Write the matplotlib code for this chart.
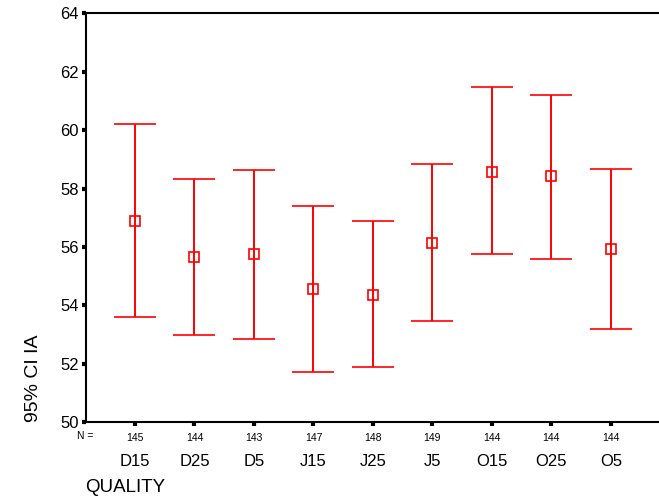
import matplotlib.pyplot as plt
import numpy as np
from matplotlib import transforms

plt.rcParams['font.family'] = ['Liberation Sans', 'DejaVu Sans']

groups = ['D15', 'D25', 'D5', 'J15', 'J25', 'J5', 'O15', 'O25', 'O5']
n_counts = [145, 144, 143, 147, 148, 149, 144, 144, 144]
means = [56.88, 55.66, 55.75, 54.57, 54.37, 56.14, 58.58, 58.44, 55.94]
lower = [53.60, 53.00, 52.86, 51.74, 51.89, 53.46, 55.75, 55.60, 53.20]
upper = [60.20, 58.33, 58.63, 57.40, 56.88, 58.83, 61.46, 61.22, 58.68]

fig = plt.figure(figsize=(6.59, 5.01), dpi=100)
ax = fig.add_axes([0.130, 0.157, 0.870, 0.8165])

x = np.arange(1, len(groups) + 1)
m = np.array(means)
yerr = [m - np.array(lower), np.array(upper) - m]
ax.errorbar(x, m, yerr=yerr, fmt='s', color='red', ecolor='red',
            mfc='none', mec='red', ms=7, mew=1.2, elinewidth=1.4,
            capsize=15, capthick=1.4)

ax.set_xlim(0.171, 9.81)
ax.set_ylim(50, 64)
ax.set_yticks(range(50, 65, 2))
ax.set_xticks(x, labels=[str(n) for n in n_counts])

for s in ['left', 'bottom', 'top']:
    ax.spines[s].set_linewidth(1.5)
ax.spines['right'].set_visible(False)
ax.tick_params(axis='y', direction='out', length=3, width=3, labelsize=12, pad=2)
ax.tick_params(axis='x', direction='out', length=3, width=3, labelsize=7.5, pad=5)

trans = transforms.blended_transform_factory(ax.transData, ax.transAxes)
for xi, g in zip(x, groups):
    ax.text(xi, -0.095, g, transform=trans, ha='center', va='center', fontsize=12)

fig.text(77 / 659, 1 - 436 / 501, 'N =', ha='left', va='center', fontsize=7.5)
fig.text(85 / 659, 1 - 488 / 501, 'QUALITY', ha='left', va='center', fontsize=13.5)
fig.text(33 / 659, 1 - 378 / 501, '95% CI IA', ha='center', va='center',
         rotation=90, fontsize=14)

plt.savefig('out.png', dpi=100)
